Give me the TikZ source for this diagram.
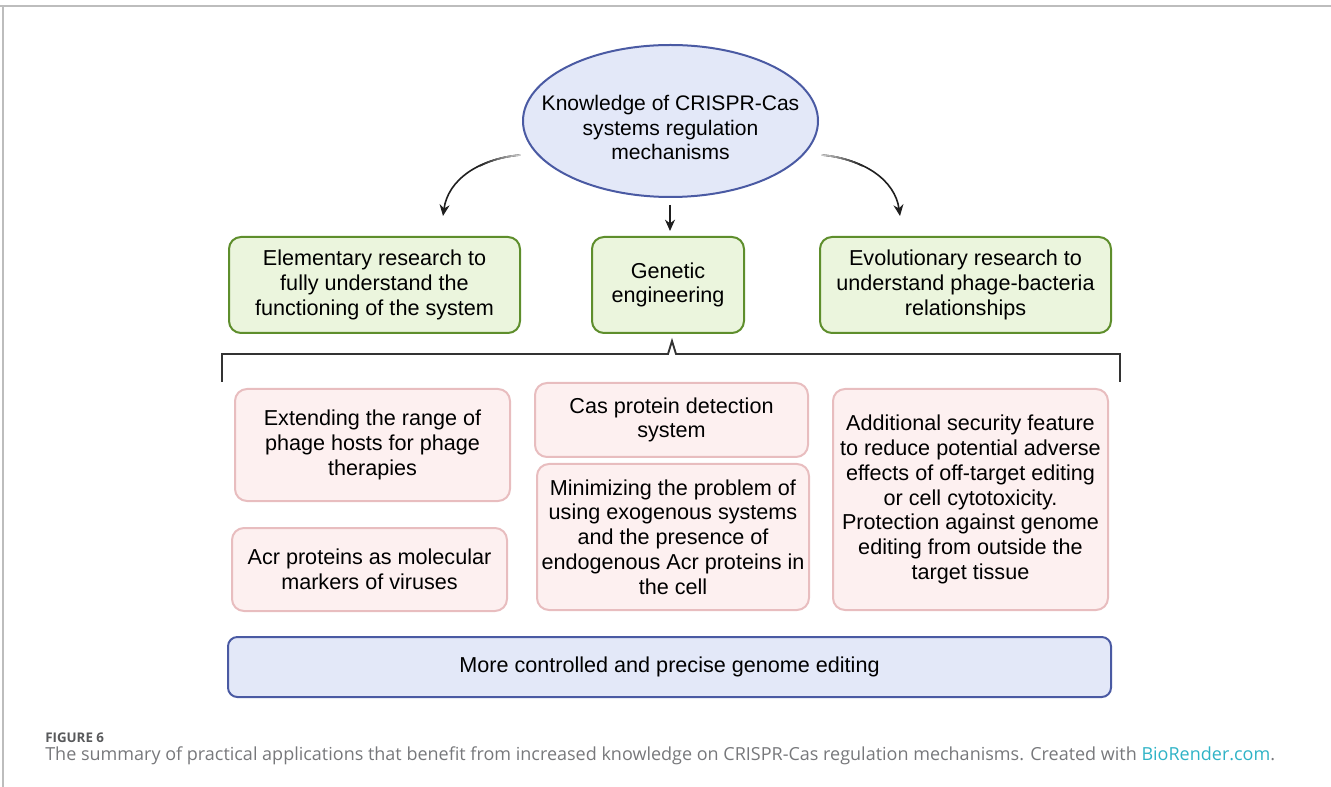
\documentclass[tikz,border=0pt]{standalone}
\usepackage{fontspec}
\setmainfont{Liberation Sans}
\newfontfamily\capfont{Open Sans}
\usetikzlibrary{arrows.meta,shapes.geometric}
\definecolor{ellfill}{HTML}{E3E8F8}
\definecolor{ellline}{HTML}{4A5AA3}
\definecolor{grfill}{HTML}{EBF5DD}
\definecolor{grline}{HTML}{5E8E2C}
\definecolor{pkfill}{HTML}{FDF0F0}
\definecolor{pkline}{HTML}{E8BDBF}
\definecolor{capgrey}{HTML}{77787B}
\definecolor{figgrey}{HTML}{58595B}
\definecolor{teal}{HTML}{2FB3C6}
\definecolor{frame}{HTML}{BDBDBD}
\tikzset{
  txt/.style={font=\fontsize{16.2}{18.6}\selectfont, align=center, text=black},
  greenbox/.style={txt, draw=grline, fill=grfill, line width=1.5pt, rounded corners=9pt, inner sep=0pt},
  pinkbox/.style={txt, draw=pkline, fill=pkfill, line width=1.5pt, rounded corners=9pt, inner sep=0pt},
  bluebox/.style={txt, draw=ellline, fill=ellfill, line width=1.5pt, rounded corners=7pt, inner sep=0pt},
  bubble/.style={ellipse, draw=ellline, fill=ellfill, line width=1.5pt, inner sep=0pt},
  arr/.style={line width=1.2pt, draw=black!88, -{Stealth[length=8.5pt,width=7.5pt]}},
  fadeseg/.style={line width=1.25pt, line cap=round},
  bracket/.style={line width=1.4pt, draw=black!80},
}
\begin{document}
\begin{tikzpicture}[x=0.75pt,y=-0.75pt]
\useasboundingbox (0,0) rectangle (1331,787);
% frame lines
\draw[frame, line width=1.5pt] (0,6) -- (1331,6);
\draw[frame, line width=0.8pt] (3,6) -- (3,787);

% top ellipse
\node[bubble, minimum width=221.25pt, minimum height=114pt] (knowshape) at (670.5,121) {};
\node[txt, font=\fontsize{15.8}{18.6}\selectfont] (know) at (670.5,127.5) {Knowledge of CRISPR-Cas\\systems regulation\\mechanisms};

% green boxes
\node[greenbox, minimum width=218.25pt, minimum height=72pt] (elem) at (374.5,285)
  {Elementary research to\\fully understand the\\functioning of the system};
\node[greenbox, minimum width=114pt, minimum height=72pt] (gen) at (668,285)
  {Genetic\\engineering};
\node[greenbox, minimum width=218.25pt, minimum height=72pt] (evo) at (965.5,285)
  {Evolutionary research to\\understand phage-bacteria\\relationships};

% arrows
\coordinate (la) at (520,155);
\coordinate (lb) at (443,216);
\coordinate (ma) at (670,205);
\coordinate (mb) at (670,231);
\coordinate (ra) at (822,155);
\coordinate (rb) at (900,216);
\draw[arr] (la) .. controls (478,159) and (448,180) .. (lb);
\draw[arr] (ma) -- (mb);
\draw[arr] (ra) .. controls (864,159) and (895,180) .. (rb);
% fading start of curved arrows
\path (la) .. controls (478,159) and (448,180) .. (lb)
  coordinate[pos=0.04] (L1) coordinate[pos=0.08] (L2) coordinate[pos=0.12] (L3)
  coordinate[pos=0.16] (L4) coordinate[pos=0.20] (L5) coordinate[pos=0.24] (L6)
  coordinate[pos=0.28] (L7) coordinate[pos=0.32] (L8) coordinate[pos=0.36] (L9);
\path (ra) .. controls (864,159) and (895,180) .. (rb)
  coordinate[pos=0.04] (R1) coordinate[pos=0.08] (R2) coordinate[pos=0.12] (R3)
  coordinate[pos=0.16] (R4) coordinate[pos=0.20] (R5) coordinate[pos=0.24] (R6)
  coordinate[pos=0.28] (R7) coordinate[pos=0.32] (R8) coordinate[pos=0.36] (R9);
\foreach \a/\b/\c in {la/L1/22, L1/L2/30, L2/L3/38, L3/L4/46, L4/L5/54, L5/L6/62, L6/L7/70, L7/L8/77, L8/L9/83}
  \draw[fadeseg, draw=black!\c] (\a) -- (\b);
\foreach \a/\b/\c in {ra/R1/22, R1/R2/30, R2/R3/38, R3/R4/46, R4/R5/54, R5/R6/62, R6/R7/70, R7/R8/77, R8/R9/83}
  \draw[fadeseg, draw=black!\c] (\a) -- (\b);

% bracket
\draw[bracket] (222,382) -- (222,354) -- (668,354) -- (672,341) -- (676,354) -- (1120,354) -- (1120,382);

% pink boxes
\node[pinkbox, minimum width=206.25pt, minimum height=84pt] (ext) at (372.5,445)
  {Extending the range of\\phage hosts for phage\\therapies};
\node[pinkbox, minimum width=206.25pt, minimum height=62.25pt] (acr) at (369.5,569.5)
  {Acr proteins as molecular\\markers of viruses};
\node[pinkbox, minimum width=204.75pt, minimum height=55.5pt] (cas) at (671.5,420)
  {Cas protein detection\\system};
\node[pinkbox, minimum width=204pt, minimum height=109.5pt] (mini) at (673,537)
  {Minimizing the problem of\\using exogenous systems\\and the presence of\\endogenous Acr proteins in\\the cell};
\node[pinkbox, minimum width=206.25pt, minimum height=165.75pt] (sec) at (970.5,499.5)
  {Additional security feature\\to reduce potential adverse\\effects of off-target editing\\or cell cytotoxicity.\\Protection against genome\\editing from outside the\\target tissue};

% bottom box
\node[bluebox, minimum width=662.25pt, minimum height=45pt] (more) at (669.5,667)
  {More controlled and precise genome editing};

% caption
\node[anchor=west, inner sep=0pt, text=figgrey, font=\capfont\bfseries\fontsize{10}{12}\selectfont] (fig) at (45,738) {FIGURE 6};
\node[anchor=west, inner sep=0pt, text=capgrey, font=\capfont\fontsize{13.5}{16}\selectfont] (cap) at (45,756)
  {The summary of practical applications that benefit from increased knowledge on CRISPR-Cas regulation mechanisms. Created with \textcolor{teal}{BioRender.com}.};
\end{tikzpicture}
\end{document}
